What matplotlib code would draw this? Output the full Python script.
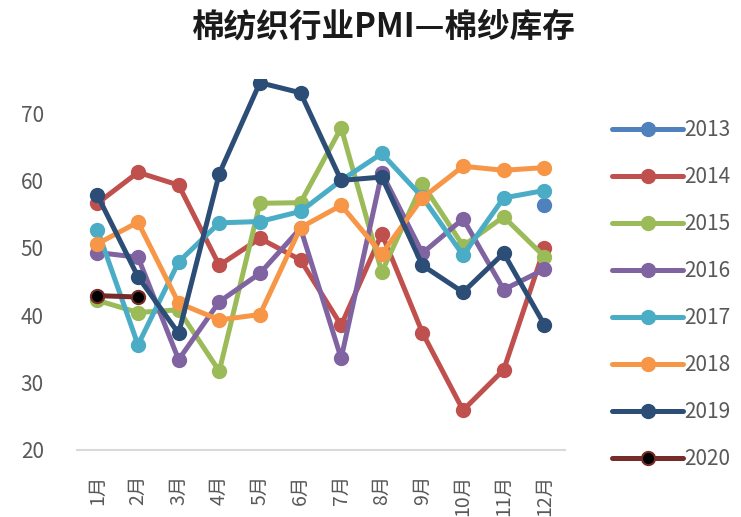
"""
Cotton textile PMI - yarn inventory, monthly by year.
"""

import matplotlib
matplotlib.use('Agg')
import matplotlib.pyplot as plt
import numpy as np

plt.rcParams['font.family'] = ['Noto Sans CJK SC', 'DejaVu Sans']

# monthly values
months = ['1月', '2月', '3月', '4月', '5月', '6月',
          '7月', '8月', '9月', '10月', '11月', '12月']
nan = np.nan
y2013 = [nan, nan, nan, nan, nan, nan, nan, nan, nan, nan, nan, 56.4]
y2014 = [56.6, 61.2, 59.3, 47.4, 51.4, 48.2, 38.5, 52.1, 37.4, 25.9, 31.9, 49.9]
y2015 = [42.2, 40.4, 40.8, 31.7, 56.6, 56.7, 67.8, 46.4, 59.5, 50.3, 54.6, 48.7]
y2016 = [49.3, 48.6, 33.4, 42.0, 46.2, 52.9, 33.6, 61.1, 49.2, 54.3, 43.8, 46.8]
y2017 = [52.7, 35.6, 47.9, 53.7, 53.9, 55.4, 60.0, 64.0, 57.5, 48.9, 57.4, 58.5]
y2018 = [50.6, 53.8, 41.8, 39.3, 40.1, 53.0, 56.3, 49.1, 57.4, 62.1, 61.5, 61.9]
y2019 = [57.8, 45.7, 37.3, 61.0, 74.5, 73.0, 60.0, 60.5, 47.4, 43.4, 49.2, 38.6]
y2020 = [42.9, 42.7, nan, nan, nan, nan, nan, nan, nan, nan, nan, nan]

years = ['2013', '2014', '2015', '2016', '2017', '2018', '2019', '2020']
series = [y2013, y2014, y2015, y2016, y2017, y2018, y2019, y2020]
colors = ['#4F81BD', '#C0504D', '#9BBB59', '#8064A2',
          '#4BACC6', '#F79646', '#2C4D75', '#772C2A']

fig = plt.figure(figsize=(7.41, 5.17), dpi=100)
ax = fig.add_axes([0.104, 0.1296, 0.658, 0.717])

x = np.arange(1, 13)
for yr, vals, c in zip(years, series, colors):
    face = 'black' if yr == '2020' else c
    ax.plot(x, vals, '-o', color=c, lw=3.6, ms=9.5,
            markerfacecolor=face, markeredgecolor=c, markeredgewidth=1.5,
            label=yr, solid_capstyle='round')

ax.set_xlim(0.5, 12.5)
ax.set_ylim(20, 75)
ax.set_yticks([20, 30, 40, 50, 60, 70])
ax.set_xticks(x)
ax.set_xticklabels(months, rotation=90, fontsize=14, color='#595959')
ax.tick_params(axis='y', labelsize=15, colors='#595959', length=0, pad=24)
ax.tick_params(axis='x', length=0, pad=18)

for s in ['top', 'right', 'left']:
    ax.spines[s].set_visible(False)
ax.spines['bottom'].set_color('#D9D9D9')
ax.spines['bottom'].set_linewidth(1.5)

fig.text(0.518, 0.948, '棉纺织行业PMI—棉纱库存', ha='center', va='center',
         fontsize=23.5, fontweight='bold', color='#1A1A1A')

leg = fig.legend(loc='upper left', bbox_to_anchor=(0.815, 0.785),
                 frameon=False, fontsize=15, handlelength=3.4,
                 labelspacing=1.2, handletextpad=0.05, borderaxespad=0)
for t in leg.get_texts():
    t.set_color('#595959')

plt.savefig('out.png', dpi=100)
